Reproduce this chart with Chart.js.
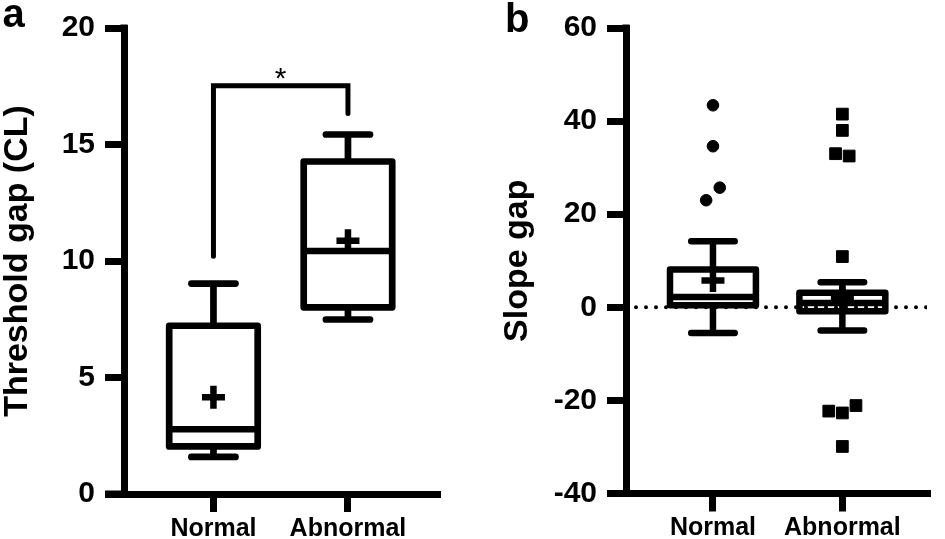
<!DOCTYPE html>
<html><head><meta charset="utf-8">
<script src="https://cdn.jsdelivr.net/npm/chart.js@4.4.1/dist/chart.umd.min.js"></script>
<style>
html,body{margin:0;padding:0;background:#fff;overflow:hidden}
#wrap{position:relative;width:945px;height:539px;background:#fff}
canvas{position:absolute;top:0}
#ca{left:0;width:472px;height:539px}
#cb{left:472px;width:473px;height:539px}
</style></head><body>
<div id="wrap"><canvas id="ca" width="472" height="539"></canvas><canvas id="cb" width="473" height="539"></canvas></div>
<script>
// ---------- data ----------
const categories = ['Normal', 'Abnormal'];

// Panel a: threshold gap (CL)
const thrMin    = [1.59, 7.49];
const thrQ1     = [2.04, 8.01];
const thrMedian = [2.78, 10.43];
const thrQ3     = [7.22, 14.27];
const thrMax    = [9.03, 15.43];
const thrMean   = [4.15, 10.87];
const thrTicks  = [0, 5, 10, 15, 20];
const sigBracketY    = 17.52;
const sigBracketEnds = [10.2, 16.33];
const sigLabel       = '*';

// Panel b: slope gap
const slopeMin    = [-5.5, -5.0];
const slopeQ1     = [0.44, -0.83];
const slopeMedian = [2.2, 0.93];
const slopeQ3     = [8.12, 3.1];
const slopeMax    = [14.2, 5.4];
const slopeMean   = [5.75, 2.0];
const slopeOutNormal   = [43.4, 34.6, 23.0, 25.7];
const slopeOutAbnormal = [41.5, 38.0, 33.0, 32.5, 10.9, -22.3, -22.7, -21.1, -29.9];
const slopeTicks = [-40, -20, 0, 20, 40, 60];

const panelLabels = ['a', 'b'];
const yTitles = ['Threshold gap (CL)', 'Slope gap'];

// ---------- helpers ----------
const FONT = "'Liberation Sans', Arial, Helvetica, sans-serif";
Chart.defaults.color = '#000';
Chart.defaults.font.family = FONT;

function boxPath(mins, q1s, meds, q3s, maxs, hw, cw) {
  const pts = [];
  categories.forEach((c, i) => {
    const x = i + 1;
    const gap = {x: x, y: null};
    pts.push({x: x - hw, y: q1s[i]}, {x: x - hw, y: q3s[i]}, {x: x + hw, y: q3s[i]}, {x: x + hw, y: q1s[i]}, {x: x - hw, y: q1s[i]}, gap);
    pts.push({x: x - hw, y: meds[i]}, {x: x + hw, y: meds[i]}, gap);
    pts.push({x: x, y: q3s[i]}, {x: x, y: maxs[i]}, gap);
    pts.push({x: x - cw, y: maxs[i]}, {x: x + cw, y: maxs[i]}, gap);
    pts.push({x: x, y: q1s[i]}, {x: x, y: mins[i]}, gap);
    pts.push({x: x - cw, y: mins[i]}, {x: x + cw, y: mins[i]}, gap);
  });
  return pts;
}
function meanPts(means) { return categories.map((c, i) => ({x: i + 1, y: means[i]})); }
// simple beeswarm: consecutive values closer than threshold are spread sideways
function swarm(values, center, threshold, step) {
  const groups = []; let cur = [];
  values.forEach((v, i) => {
    if (cur.length && Math.abs(v - values[i - 1]) > threshold) { groups.push(cur); cur = []; }
    cur.push(v);
  });
  if (cur.length) groups.push(cur);
  const pts = [];
  groups.forEach(g => g.forEach((v, k) => pts.push({x: center + (k - (g.length - 1) / 2) * step, y: v})));
  return pts;
}

const extras = {
  id: 'extras',
  afterDraw(chart, args, opts) {
    const ctx = chart.ctx;
    const xs = chart.scales.x, ys = chart.scales.y;
    const ca = chart.chartArea;
    ctx.save();
    // x axis extends left under the y tick marks
    ctx.strokeStyle = '#000'; ctx.lineWidth = 7; ctx.lineCap = 'butt';
    ctx.beginPath(); ctx.moveTo(ca.left - opts.ext, ca.bottom); ctx.lineTo(ca.left + 3.5, ca.bottom); ctx.stroke();
    ctx.beginPath(); ctx.moveTo(ca.left, ca.top - 3.5); ctx.lineTo(ca.left, ca.top + 1); ctx.stroke();
    // panel letter
    ctx.fillStyle = '#000';
    ctx.font = 'bold 40px ' + FONT;
    ctx.textAlign = 'left'; ctx.textBaseline = 'alphabetic';
    ctx.fillText(opts.letter, opts.lx, opts.ly);
    // significance label
    if (opts.sig) {
      ctx.font = '30px ' + FONT;
      ctx.textAlign = 'center';
      const m = ctx.measureText(opts.sig);
      const cx = xs.getPixelForValue(1.5);
      const target = ys.getPixelForValue(opts.sigY) - 12.5;
      const by = target + (m.actualBoundingBoxAscent - m.actualBoundingBoxDescent) / 2;
      ctx.fillText(opts.sig, cx, by);
    }
    ctx.restore();
  }
};

function makeOptions(cfg) {
  return {
    responsive: false, animation: false, devicePixelRatio: 1, events: [],
    layout: {padding: {top: cfg.top, right: cfg.right, left: 0, bottom: 0}},
    plugins: {legend: {display: false}, tooltip: {enabled: false},
      extras: {ext: 19, letter: cfg.letter, lx: cfg.lx, ly: cfg.ly, sig: cfg.sig, sigY: cfg.sigY}},
    scales: {
      x: {
        type: 'linear', min: cfg.xmin, max: cfg.xmax,
        afterBuildTicks: s => { s.ticks = categories.map((c, i) => ({value: i + 1})); },
        afterFit: s => { s.height = cfg.xh; },
        ticks: {callback: v => categories[v - 1] || '', font: {size: 25, weight: 'bold'}, padding: 2, maxRotation: 0, autoSkip: false, color: '#000'},
        grid: {display: true, drawOnChartArea: false, drawTicks: true, tickLength: 18, tickWidth: 7, lineWidth: 7, tickColor: '#000', color: '#000'},
        border: {display: true, width: 7, color: '#000'}
      },
      y: {
        type: 'linear', min: cfg.ymin, max: cfg.ymax,
        afterBuildTicks: s => { s.ticks = cfg.ticks.map(v => ({value: v})); },
        afterFit: s => { s.width = cfg.yw; },
        ticks: {font: {size: 30, weight: 'bold'}, padding: 10, color: '#000'},
        grid: {display: true, drawOnChartArea: false, drawTicks: true, tickLength: 19, tickWidth: 7, lineWidth: 7, tickColor: '#000', color: '#000'},
        border: {display: true, width: 7, color: '#000'},
        title: {display: true, text: cfg.title, font: {size: 34, weight: 'bold', lineHeight: 1.0}, padding: {top: cfg.tpad, bottom: 0}, color: '#000'}
      }
    }
  };
}

const lineStyle = {showLine: true, borderColor: '#000', pointRadius: 0, borderCapStyle: 'round', borderJoinStyle: 'round', spanGaps: false, fill: false};
const meanStyle = {showLine: false, pointStyle: 'cross', pointRadius: 11.5, pointBorderWidth: 6.5, borderColor: '#000', backgroundColor: '#000'};

// ---------- panel a ----------
const xminA = 0.335, xmaxA = 2.662;
new Chart(document.getElementById('ca'), {
  type: 'scatter',
  data: {datasets: [
    Object.assign({data: meanPts(thrMean)}, meanStyle),
    Object.assign({data: boxPath(thrMin, thrQ1, thrMedian, thrQ3, thrMax, 0.329, 0.164), borderWidth: 6.7}, lineStyle),
    Object.assign({}, lineStyle, {data: [{x: 1, y: sigBracketEnds[0]}, {x: 1, y: sigBracketY}, {x: 2, y: sigBracketY}, {x: 2, y: sigBracketEnds[1]}], borderWidth: 5, borderJoinStyle: 'miter'})
  ]},
  options: makeOptions({top: 20.7, right: 35, xh: 45, yw: 124, xmin: xminA, xmax: xmaxA, ymin: 0, ymax: 20, ticks: thrTicks,
    title: yTitles[0], tpad: 0.4, letter: panelLabels[0], lx: 2.5, ly: 26.5, sig: sigLabel, sigY: sigBracketY}),
  plugins: [extras]
});

// ---------- panel b ----------
const xminB = 0.328, xmaxB = 2.654;
new Chart(document.getElementById('cb'), {
  type: 'scatter',
  data: {datasets: [
    Object.assign({data: meanPts(slopeMean)}, meanStyle),
    Object.assign({data: boxPath(slopeMin, slopeQ1, slopeMedian, slopeQ3, slopeMax, 0.332, 0.168), borderWidth: 6.5}, lineStyle),
    {data: swarm(slopeOutNormal, 1, 3.0, 0.105), showLine: false, pointStyle: 'circle', pointRadius: 5.8, pointBorderWidth: 1, borderColor: '#000', backgroundColor: '#000'},
    {data: swarm(slopeOutAbnormal, 2, 3.0, 0.105), showLine: false, pointStyle: 'rect', pointRadius: 8.3, pointBorderWidth: 1, borderColor: '#000', backgroundColor: '#000'},
    Object.assign({}, lineStyle, {data: [{x: xminB, y: 0}, {x: xmaxB, y: 0}], borderWidth: 4, borderDash: [0, 10], borderCapStyle: 'round'})
  ]},
  options: makeOptions({top: 20.7, right: 5, xh: 45.5, yw: 154, xmin: xminB, xmax: xmaxB, ymin: -40, ymax: 60, ticks: slopeTicks,
    title: yTitles[1], tpad: 28.4, letter: panelLabels[1], lx: 33, ly: 31.8, sig: null}),
  plugins: [extras]
});
</script>
</body></html>
